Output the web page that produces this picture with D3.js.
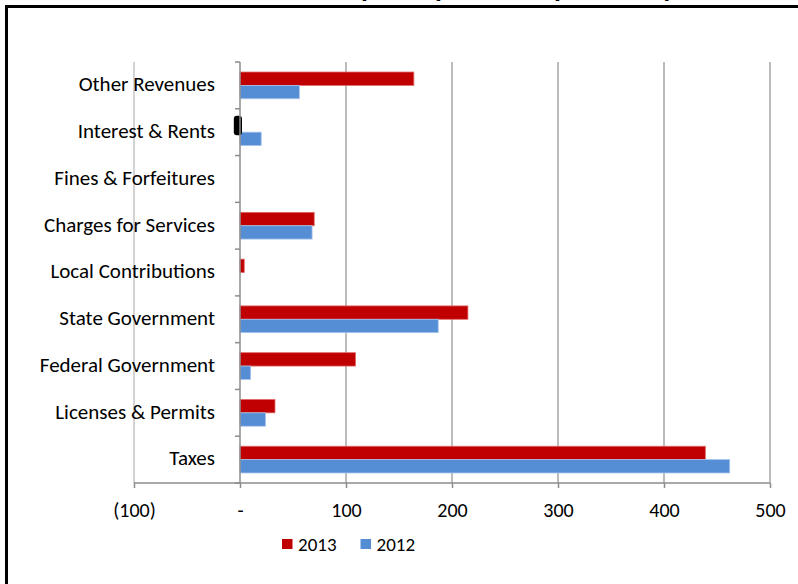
<!DOCTYPE html>
<html>
<head>
<meta charset="utf-8">
<script src="https://cdn.jsdelivr.net/npm/d3@7"></script>
<style>
  html, body { margin: 0; padding: 0; background: #fff; overflow: hidden; }
  svg { display: block; font-family: Carlito, Lato, "Open Sans", sans-serif; }
</style>
</head>
<body>
<svg id="chart" width="798" height="584"></svg>
<script>
// Revenue categories, listed top to bottom
const categories = [
  "Other Revenues",
  "Interest & Rents",
  "Fines & Forfeitures",
  "Charges for Services",
  "Local Contributions",
  "State Government",
  "Federal Government",
  "Licenses & Permits",
  "Taxes"
];
const values2013 = [164, -3, 0, 70, 4, 215, 109, 33, 439];
const values2012 = [56, 20, 0, 68, 0, 187, 10, 24, 462];
const seriesNames = ["2013", "2012"];
const seriesColors = ["#C00000", "#558ED5"];
const tickValues = [-100, 0, 100, 200, 300, 400, 500];
const tickLabels = ["(100)", "-", "100", "200", "300", "400", "500"];
const titleText = "Revenue Sources per Capita - Comparison by Year";

const svg = d3.select("#chart");

// Outer chart frame (extends past the visible window)
svg.append("rect")
  .attr("x", 6.5).attr("y", 6.5)
  .attr("width", 820).attr("height", 620)
  .attr("fill", "none").attr("stroke", "#000").attr("stroke-width", 3);

// Title sits above the frame, only its descenders reach the page
svg.append("text")
  .attr("x", 445).attr("y", -3)
  .attr("text-anchor", "middle")
  .attr("font-weight", "bold")
  .attr("font-size", 28)
  .text(titleText);

const margin = { left: 134, right: 770, top: 62, bottom: 483 };

const x = d3.scaleLinear().domain([-100, 500]).range([margin.left, margin.right]);
const y = d3.scaleBand().domain(categories).range([margin.top, margin.bottom]).paddingInner(0).paddingOuter(0);
const inner = d3.scaleBand().domain(seriesNames)
  .range([0, y.bandwidth()]).paddingInner(0).paddingOuter(0.75);

// Vertical gridlines (one per tick except zero, which carries the category axis)
svg.append("g").selectAll("line")
  .data(tickValues.filter(v => v !== 0))
  .join("line")
  .attr("x1", d => x(d)).attr("x2", d => x(d))
  .attr("y1", margin.top).attr("y2", margin.bottom)
  .attr("stroke", "#a6a6a6").attr("stroke-width", d => d < 0 ? 1 : 1.5);

// Category labels
svg.append("g").selectAll("text")
  .data(categories).join("text")
  .attr("x", 215)
  .attr("y", d => y(d) + y.bandwidth() / 2 - 1.5)
  .attr("dy", "0.35em")
  .attr("text-anchor", "end")
  .attr("font-size", 21)
  .attr("fill", "#000")
  .text(d => d);

// Bars
const rows = categories.map((c, i) => ({ c, vals: [values2013[i], values2012[i]] }));
const groups = svg.append("g").selectAll("g")
  .data(rows).join("g")
  .attr("transform", d => `translate(0,${y(d.c)})`);

groups.selectAll("rect")
  .data(d => d.vals.map((v, k) => ({ v, k })).filter(e => e.v !== 0))
  .join("rect")
  .attr("x", e => x(Math.min(0, e.v)))
  .attr("width", e => Math.abs(x(e.v) - x(0)))
  .attr("y", e => inner(seriesNames[e.k]))
  .attr("height", inner.bandwidth())
  .attr("fill", e => seriesColors[e.k])
  .attr("stroke", e => e.k === 0 ? "#e06666" : "#a9c4eb")
  .attr("stroke-width", 0.8);

// Selection marker on the small negative Interest & Rents value
const irIdx = categories.indexOf("Interest & Rents");
svg.append("rect")
  .attr("x", x(values2013[irIdx]) - 3)
  .attr("y", y(categories[irIdx]) + inner("2013") - 3)
  .attr("width", Math.abs(x(values2013[irIdx]) - x(0)) + 5)
  .attr("height", inner.bandwidth() + 6)
  .attr("rx", 3).attr("ry", 3)
  .attr("fill", "#000");

// Category axis at zero
const axisColor = "#8c8c8c";
const yAxisG = svg.append("g").attr("transform", `translate(${x(0)},0)`);
yAxisG.append("line")
  .attr("x1", 0).attr("x2", 0)
  .attr("y1", margin.top).attr("y2", margin.bottom)
  .attr("stroke", axisColor).attr("stroke-width", 1.5);
yAxisG.selectAll(".cat-tick")
  .data(d3.range(categories.length + 1))
  .join("line")
  .attr("class", "cat-tick")
  .attr("x1", -5).attr("x2", 0)
  .attr("y1", i => margin.top + i * y.step()).attr("y2", i => margin.top + i * y.step())
  .attr("stroke", axisColor).attr("stroke-width", 1.5);

// Value axis
const xAxis = d3.axisBottom(x).tickValues(tickValues).tickSize(5)
  .tickFormat((d, i) => tickLabels[i]);
const xAxisG = svg.append("g")
  .attr("transform", `translate(0,${margin.bottom})`)
  .call(xAxis);
xAxisG.select(".domain").attr("stroke", axisColor).attr("stroke-width", 1.5)
  .attr("d", `M${margin.left},0H${margin.right}`);
xAxisG.selectAll(".tick line").attr("stroke", axisColor).attr("stroke-width", 1.5);
xAxisG.selectAll(".tick text")
  .attr("y", 27).attr("dy", "0.35em")
  .attr("font-size", 20).attr("fill", "#000")
  .attr("font-family", "Carlito, Lato, 'Open Sans', sans-serif");

// Legend
const legend = svg.append("g").attr("transform", "translate(282,544)");
const legendX = [0, 78.5];
seriesNames.forEach((s, i) => {
  const g = legend.append("g").attr("transform", `translate(${legendX[i]},0)`);
  g.append("rect").attr("x", 0).attr("y", -5).attr("width", 10.5).attr("height", 10)
    .attr("fill", seriesColors[i]);
  g.append("text").attr("x", 16).attr("y", 0).attr("dy", "0.35em")
    .attr("font-size", 19).attr("fill", "#000").text(s);
});
</script>
</body>
</html>
